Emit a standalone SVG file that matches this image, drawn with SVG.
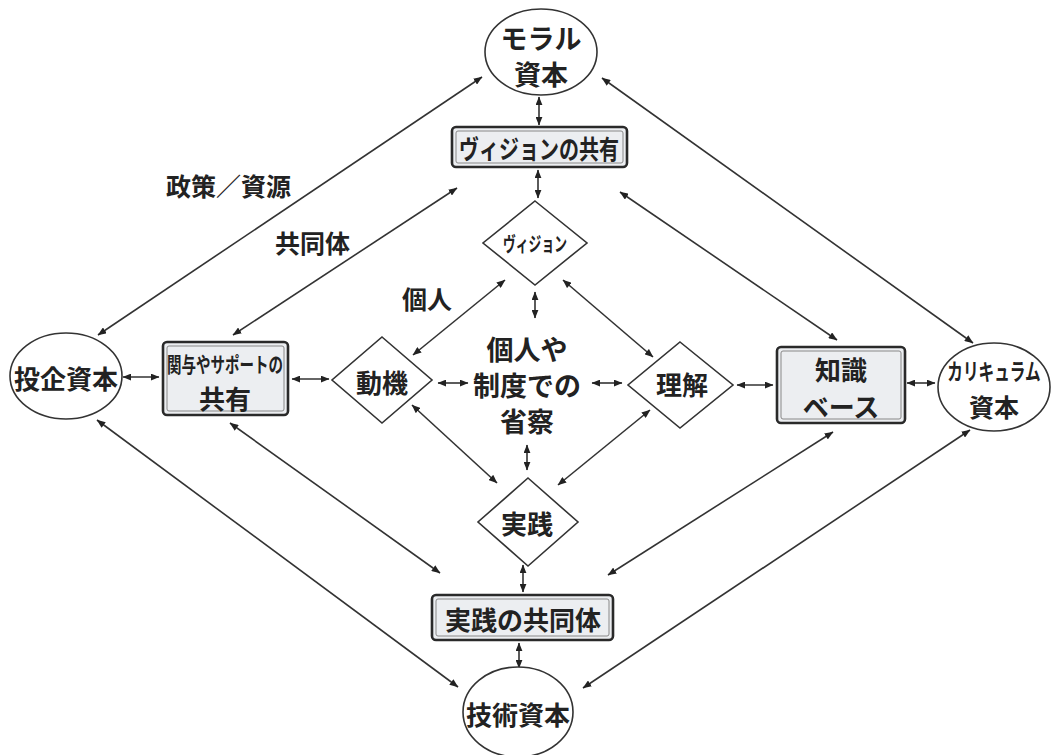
<svg xmlns="http://www.w3.org/2000/svg" width="1054" height="755" viewBox="0 0 1054 755">
<defs>
<marker id="ah" viewBox="0 0 10 8" refX="9.5" refY="4" markerWidth="9" markerHeight="7" markerUnits="userSpaceOnUse" orient="auto-start-reverse">
<path d="M0,0 L10,4 L0,8 Z" fill="#222"/>
</marker>
<style>
.t{font-family:"Noto Sans CJK JP","Noto Sans CJK SC",sans-serif;font-weight:bold;fill:#222;text-anchor:middle;dominant-baseline:central}
.lbl{font-family:"Noto Sans CJK JP","Noto Sans CJK SC",sans-serif;font-weight:bold;fill:#222;dominant-baseline:central}
.ell{fill:#fff;stroke:#333;stroke-width:1.6}
.dia{fill:#fff;stroke:#333;stroke-width:1.6}
.box{fill:#eceef1;stroke:#2a2a2a;stroke-width:2.6}
.box2{fill:none;stroke:#888;stroke-width:1}
.c line{stroke:#333;stroke-width:1.6;marker-start:url(#ah);marker-end:url(#ah)}
</style>
</defs>
<rect width="1054" height="755" fill="#fff"/>

<g class="c" id="connectors">
<line x1="482" y1="77" x2="98" y2="335"/>
<line x1="602" y1="78" x2="973" y2="343"/>
<line x1="97" y1="420" x2="458" y2="687"/>
<line x1="970" y1="430" x2="583" y2="688"/>
<line x1="457" y1="188" x2="233" y2="335"/>
<line x1="620" y1="192" x2="837" y2="340"/>
<line x1="230" y1="423" x2="440" y2="573"/>
<line x1="833" y1="432" x2="608" y2="575"/>
<line x1="505" y1="280" x2="413" y2="355"/>
<line x1="563" y1="280" x2="653" y2="357"/>
<line x1="412" y1="405" x2="497" y2="483"/>
<line x1="650" y1="410" x2="558" y2="485"/>
<line x1="539" y1="97" x2="539" y2="125"/>
<line x1="538" y1="170" x2="538" y2="198"/>
<line x1="535" y1="292" x2="535" y2="318"/>
<line x1="527" y1="445" x2="527" y2="470"/>
<line x1="523" y1="565" x2="523" y2="592"/>
<line x1="519" y1="643" x2="519" y2="668"/>
<line x1="123" y1="377" x2="159" y2="377"/>
<line x1="292" y1="379" x2="329" y2="379"/>
<line x1="438" y1="383" x2="468" y2="383"/>
<line x1="592" y1="383" x2="622" y2="383"/>
<line x1="737" y1="385" x2="773" y2="385"/>
<line x1="907" y1="383" x2="935" y2="383"/>
</g>

<g id="moral">
<ellipse class="ell" cx="541" cy="52" rx="56" ry="43"/>
<text class="t" x="541" y="37" font-size="27">モラル</text>
<text class="t" x="541" y="73" font-size="27">資本</text>
</g>

<g id="vision-share">
<rect class="box" x="452" y="127" width="175" height="40" rx="4"/>
<rect class="box2" x="456" y="131" width="167" height="32" rx="2"/>
<text class="t" x="539" y="147" font-size="26" textLength="160" lengthAdjust="spacingAndGlyphs">ヴィジョンの共有</text>
</g>

<g id="project-capital">
<ellipse class="ell" cx="66" cy="376" rx="56" ry="43"/>
<text class="t" x="66" y="377" font-size="26">投企資本</text>
</g>

<g id="support-share">
<rect class="box" x="163" y="342" width="125" height="73" rx="4"/>
<rect class="box2" x="167" y="346" width="117" height="65" rx="2"/>
<text class="t" x="225" y="363" font-size="21" textLength="116" lengthAdjust="spacingAndGlyphs">関与やサポートの</text>
<text class="t" x="225" y="397" font-size="26">共有</text>
</g>

<g id="knowledge-base">
<rect class="box" x="777" y="347" width="128" height="76" rx="4"/>
<rect class="box2" x="781" y="351" width="120" height="68" rx="2"/>
<text class="t" x="841" y="368" font-size="26">知識</text>
<text class="t" x="841" y="405" font-size="26">ベース</text>
</g>

<g id="curriculum-capital">
<ellipse class="ell" cx="994" cy="387" rx="56" ry="44"/>
<text class="t" x="0" y="0" font-size="23" transform="translate(994,370) scale(0.68,1)">カリキュラム</text>
<text class="t" x="994" y="406" font-size="25">資本</text>
</g>

<g id="vision">
<polygon class="dia" points="535,201 587,243 535,285 483,243"/>
<text class="t" x="535" y="243" font-size="20" textLength="64" lengthAdjust="spacingAndGlyphs">ヴィジョン</text>
</g>

<g id="motive">
<polygon class="dia" points="382,337 432,380 382,423 332,380"/>
<text class="t" x="382" y="381" font-size="26">動機</text>
</g>

<g id="understanding">
<polygon class="dia" points="680,342 733,385 680,428 628,385"/>
<text class="t" x="682" y="383" font-size="26">理解</text>
</g>

<g id="practice">
<polygon class="dia" points="528,478 578,522 528,566 478,522"/>
<text class="t" x="527" y="522" font-size="26">実践</text>
</g>

<g id="reflection">
<text class="t" x="527" y="348" font-size="27" font-weight="500">個人や</text>
<text class="t" x="527" y="384" font-size="27" font-weight="500">制度での</text>
<text class="t" x="527" y="420" font-size="27" font-weight="500">省察</text>
</g>

<g id="practice-community">
<rect class="box" x="432" y="595" width="181" height="45" rx="4"/>
<rect class="box2" x="436" y="599" width="173" height="37" rx="2"/>
<text class="t" x="523" y="618" font-size="26">実践の共同体</text>
</g>

<g id="tech-capital">
<ellipse class="ell" cx="518" cy="712" rx="55" ry="45"/>
<text class="t" x="518" y="713" font-size="26">技術資本</text>
</g>

<g id="labels">
<text class="lbl" x="166" y="185" font-size="25">政策／資源</text>
<text class="lbl" x="275" y="242" font-size="25">共同体</text>
<text class="lbl" x="402" y="298" font-size="25">個人</text>
</g>
</svg>
